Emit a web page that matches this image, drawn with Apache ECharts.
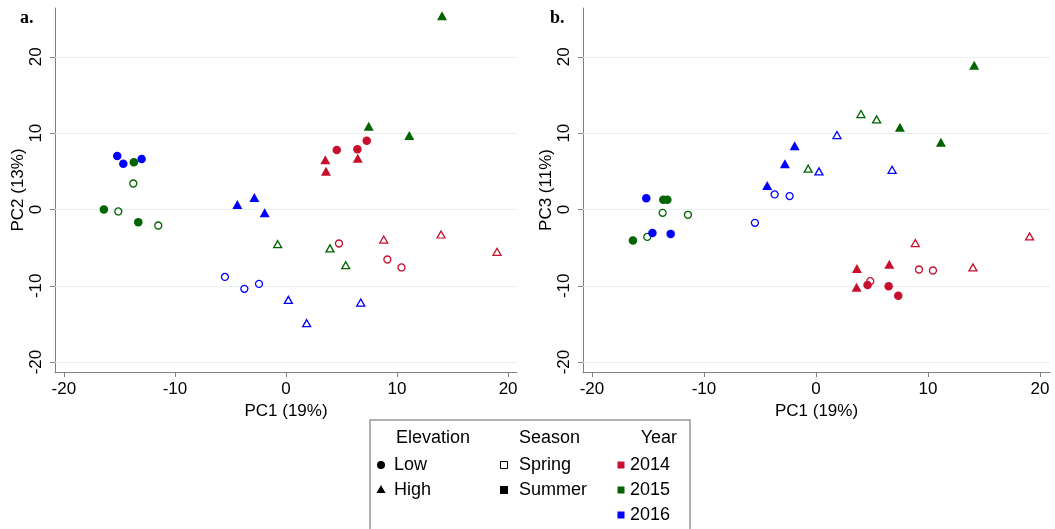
<!DOCTYPE html>
<html>
<head>
<meta charset="utf-8">
<script src="https://cdn.jsdelivr.net/npm/echarts@6/dist/echarts.min.js"></script>
<style>
html, body { margin: 0; padding: 0; background: #fff; }
#chart { width: 1055px; height: 529px; }
</style>
</head>
<body>
<div id="chart"></div>
<script>
const years = ['2014', '2015', '2016']
const yearColors = ['#c8102e', '#006400', '#0000ff']
const xTicks = [-20, -10, 0, 10, 20]
const yTicks = [-20, -10, 0, 10, 20]

// panel a: PC1 vs PC2
const a14LowSum = [[4.57, 7.8], [6.43, 7.9], [7.27, 9.0]]
const a14HighSum = [[3.54, 6.5], [3.6, 5.0], [6.46, 6.7]]
const a14LowSpr = [[4.77, -4.46], [9.13, -6.56], [10.4, -7.6]]
const a14HighSpr = [[8.8, -3.94], [13.96, -3.28], [19.0, -5.55]]
const a15LowSum = [[-13.7, 6.2], [-16.4, 0.0], [-13.3, -1.66]]
const a15HighSum = [[14.05, 25.4], [7.45, 10.9], [11.1, 9.7]]
const a15LowSpr = [[-13.75, 3.4], [-15.1, -0.26], [-11.5, -2.1]]
const a15HighSpr = [[-0.75, -4.55], [3.96, -5.1], [5.38, -7.3]]
const a16LowSum = [[-15.2, 7.0], [-14.65, 6.0], [-13.0, 6.6]]
const a16HighSum = [[-4.38, 0.66], [-2.85, 1.57], [-1.92, -0.44]]
const a16LowSpr = [[-5.5, -8.84], [-3.75, -10.4], [-2.43, -9.75]]
const a16HighSpr = [[0.21, -11.85], [1.86, -14.9], [6.73, -12.2]]

// panel b: PC1 vs PC3
const b14LowSum = [[4.61, -9.9], [6.49, -10.06], [7.35, -11.3]]
const b14HighSum = [[3.66, -7.74], [6.55, -7.17], [3.63, -10.2]]
const b14LowSpr = [[4.85, -9.4], [9.2, -7.87], [10.45, -8.0]]
const b14HighSpr = [[8.87, -4.4], [19.08, -3.54], [14.02, -7.6]]
const b15LowSum = [[-13.63, 1.27], [-13.27, 1.27], [-16.34, -4.07]]
const b15HighSum = [[14.13, 18.9], [7.5, 10.76], [11.16, 8.8]]
const b15LowSpr = [[-13.69, -0.44], [-11.43, -0.7], [-15.06, -3.6]]
const b15HighSpr = [[4.02, 12.5], [5.42, 11.8], [-0.69, 5.34]]
const b16LowSum = [[-15.15, 1.48], [-14.6, -3.1], [-12.97, -3.2]]
const b16HighSum = [[-1.9, 8.36], [-2.77, 6.0], [-4.35, 3.15]]
const b16LowSpr = [[-3.69, 1.97], [-2.35, 1.75], [-5.45, -1.75]]
const b16HighSpr = [[1.875, 9.75], [0.27, 4.99], [6.8, 5.2]]

const panelA = [
  [a14LowSum, a14HighSum, a14LowSpr, a14HighSpr],
  [a15LowSum, a15HighSum, a15LowSpr, a15HighSpr],
  [a16LowSum, a16HighSum, a16LowSpr, a16HighSpr]
]
const panelB = [
  [b14LowSum, b14HighSum, b14LowSpr, b14HighSpr],
  [b15LowSum, b15HighSum, b15LowSpr, b15HighSpr],
  [b16LowSum, b16HighSum, b16LowSpr, b16HighSpr]
]

const FONT = '"Liberation Sans", Arial, sans-serif'
const AXIS_COLOR = '#808080'
const GRID_COLOR = '#e6eff1'

// low/high x summer/spring -> marker look
const markerKinds = [
  { symbol: 'circle', size: 8.5, hollow: false },
  { symbol: 'triangle', size: [10, 9], hollow: false },
  { symbol: 'circle', size: 7, hollow: true },
  { symbol: 'triangle', size: [8, 7], hollow: true }
]

const series = []

;[panelA, panelB].forEach((panel, p) => {
  // horizontal grid lines, kept under the markers
  series.push({
    type: 'scatter',
    xAxisIndex: p,
    yAxisIndex: p,
    data: [],
    z: 1,
    markLine: {
      silent: true,
      animation: false,
      z: 1,
      symbol: ['none', 'none'],
      label: { show: false },
      lineStyle: { type: 'solid', color: GRID_COLOR, width: 1 },
      data: yTicks.map(v => ({ yAxis: v }))
    }
  })
  panel.forEach((sets, yi) => {
    sets.forEach((pts, k) => {
      const kind = markerKinds[k]
      const c = yearColors[yi]
      series.push({
        name: years[yi],
        type: 'scatter',
        xAxisIndex: p,
        yAxisIndex: p,
        z: 6,
        clip: false,
        symbol: kind.symbol,
        symbolSize: kind.size,
        itemStyle: kind.hollow
          ? { color: 'rgba(0,0,0,0)', borderColor: c, borderWidth: 1.3, opacity: 1 }
          : { color: c, opacity: 1 },
        data: pts
      })
    })
  })
})

const makeX = (i, max) => ({
  gridIndex: i,
  type: 'value',
  min: -20.8,
  max: max,
  axisLine: { show: true, onZero: false, lineStyle: { color: AXIS_COLOR, width: 1 } },
  axisTick: { show: true, length: 5, customValues: xTicks, lineStyle: { color: AXIS_COLOR } },
  axisLabel: { customValues: xTicks, margin: 9, fontSize: 17, color: '#000', fontFamily: FONT },
  splitLine: { show: false },
  name: 'PC1 (19%)',
  nameLocation: 'middle',
  nameGap: 27,
  nameTextStyle: { fontSize: 17, color: '#000', fontFamily: FONT }
})

const makeY = (i, title) => ({
  gridIndex: i,
  type: 'value',
  min: -21.3,
  max: 26.4,
  axisLine: { show: true, onZero: false, lineStyle: { color: AXIS_COLOR, width: 1 } },
  axisTick: { show: true, length: 5, customValues: yTicks, lineStyle: { color: AXIS_COLOR } },
  axisLabel: { customValues: yTicks, rotate: 90, margin: 10, fontSize: 17, color: '#000', fontFamily: FONT },
  splitLine: { show: false },
  name: title,
  nameLocation: 'middle',
  nameRotate: 90,
  nameGap: 28,
  nameTextStyle: { fontSize: 17, color: '#000', fontFamily: FONT }
})

const txt = (text, x, y, align, font) => ({
  type: 'text',
  z: 20,
  style: {
    text: text,
    x: x,
    y: y,
    textAlign: align || 'left',
    textVerticalAlign: 'middle',
    font: font || '18px ' + FONT,
    fill: '#000'
  }
})

const sq = (cx, cy, s, fill, stroke) => ({
  type: 'rect',
  z: 20,
  shape: { x: cx - s / 2, y: cy - s / 2, width: s, height: s },
  style: { fill: fill, stroke: stroke || null, lineWidth: 1 }
})

const legendGraphics = [
  {
    type: 'rect',
    z: 19,
    shape: { x: 370, y: 420, width: 320, height: 130 },
    style: { fill: '#fff', stroke: '#999', lineWidth: 1.5 }
  },
  txt('Elevation', 396, 438),
  { type: 'circle', z: 20, shape: { cx: 381, cy: 465, r: 4 }, style: { fill: '#000' } },
  txt('Low', 394, 465),
  { type: 'polygon', z: 20, shape: { points: [[381, 485], [376.5, 493], [385.5, 493]] }, style: { fill: '#000' } },
  txt('High', 394, 490),
  txt('Season', 519, 438),
  sq(504, 465, 7, '#fff', '#000'),
  txt('Spring', 519, 465),
  sq(504, 490, 8, '#000'),
  txt('Summer', 519, 490),
  txt('Year', 677, 438, 'right'),
  sq(621, 465, 7, yearColors[0]),
  txt(years[0], 630, 465),
  sq(621, 490, 7, yearColors[1]),
  txt(years[1], 630, 490),
  sq(621, 515, 7, yearColors[2]),
  txt(years[2], 630, 515),
  txt('a.', 20, 18, 'left', 'bold 18px "Liberation Serif", serif'),
  txt('b.', 550, 18, 'left', 'bold 18px "Liberation Serif", serif')
]

const chart = echarts.init(document.getElementById('chart'))
chart.setOption({
  animation: false,
  backgroundColor: '#fff',
  grid: [
    { left: 55, right: 538, top: 8, bottom: 157 },
    { left: 583, right: 5, top: 8, bottom: 157 }
  ],
  xAxis: [makeX(0, 20.8), makeX(1, 20.9)],
  yAxis: [makeY(0, 'PC2 (13%)'), makeY(1, 'PC3 (11%)')],
  series: series,
  graphic: legendGraphics
})
</script>
</body>
</html>
